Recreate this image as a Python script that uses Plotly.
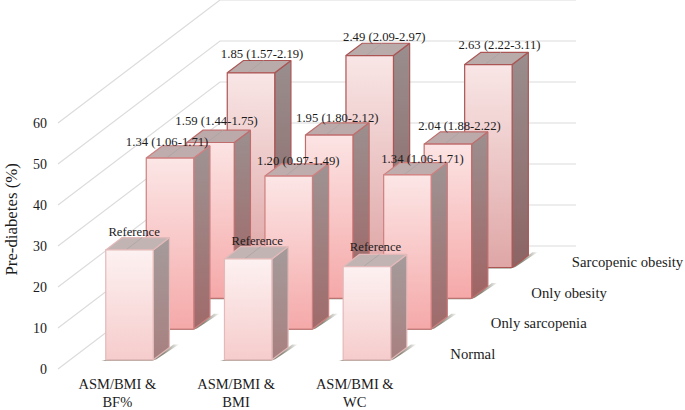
import plotly.graph_objects as go

groups = ["ASM/BMI &<br>BF%", "ASM/BMI &<br>BMI", "ASM/BMI &<br>WC"]
rows = ["Normal", "Only sarcopenia", "Only obesity", "Sarcopenic obesity"]
normal = [26.8, 24.6, 22.7]
only_sarcopenia = [41.7, 37.3, 37.6]
only_obesity = [38.0, 39.8, 37.6]
sarcopenic_obesity = [47.5, 51.7, 49.5]
normal_labels = ["Reference", "Reference", "Reference"]
sarcopenia_labels = ["1.34 (1.06-1.71)", "1.20 (0.97-1.49)", "1.34 (1.06-1.71)"]
obesity_labels = ["1.59 (1.44-1.75)", "1.95 (1.80-2.12)", "2.04 (1.88-2.22)"]
sarcopenic_labels = ["1.85 (1.57-2.19)", "2.49 (2.09-2.97)", "2.63 (2.22-3.11)"]
y_ticks = [0, 10, 20, 30, 40, 50, 60]

series = [normal, only_sarcopenia, only_obesity, sarcopenic_obesity]
labels = [normal_labels, sarcopenia_labels, obesity_labels, sarcopenic_labels]

# oblique projection: one row of depth in axis units
DX, DY = 0.3412, 7.5
PXX, PXY = 118.7, 4.1
def P(u, d, v):
    return u + d * DX, v + d * DY

front = [("#fdf1f1", "#f6cccc"), ("#fce6e6", "#f5a9a9"), ("#fce4e4", "#f5a8a8"), ("#f9e6e6", "#dfa6a6")]
side = [("#a59b9b", "#a88080"), ("#9f9393", "#a06a6a"), ("#9c8f8f", "#a06464"), ("#9a8e8e", "#8c6464")]
top_c = ["#c3b4b4", "#bfacac", "#bcaaaa", "#baabab"]
edge = ["#e3b9b9", "#cf7f7f", "#c06d6d", "#ab5555"]

# label nudges, px (right, up)
NUDGE = [[(-3.5, 5), (1, 5), (0.5, 7)],
         [(-11, 3), (1.5, 2), (7, 3)],
         [(-2, 8), (0, 4), (3.5, 5)],
         [(3, 6), (6.5, 5), (3, 6)]]

fig = go.Figure()

def poly(pts, **kw):
    fig.add_trace(go.Scatter(x=[p[0] for p in pts] + [pts[0][0]], y=[p[1] for p in pts] + [pts[0][1]],
                             mode="lines", fill="toself", hoverinfo="skip", showlegend=False, **kw))

def seg(a, b, color, width):
    fig.add_trace(go.Scatter(x=[a[0], b[0]], y=[a[1], b[1]], mode="lines", hoverinfo="skip",
                             showlegend=False, line=dict(color=color, width=width)))

# walls
for t in y_ticks:
    fig.add_trace(go.Scatter(x=[P(0, 0, t)[0], P(0, 4, t)[0], P(3, 4, t)[0]],
                             y=[P(0, 0, t)[1], P(0, 4, t)[1], P(3, 4, t)[1]],
                             mode="lines", hoverinfo="skip", showlegend=False,
                             line=dict(color="#dcdcdc", width=1.2), cliponaxis=False))

shadow = dict(type="horizontal", colorscale=[[0, "rgba(85,85,65,0.3)"], [0.06, "rgba(85,85,65,0.75)"],
                                             [0.8, "rgba(85,85,65,0.7)"], [1, "rgba(85,85,65,0.05)"]])

# bars, back row first
for r in range(3, -1, -1):
    d0, d1 = r + 0.3, r + 0.7
    for g in range(3):
        u0, u1 = g + 0.3, g + 0.7
        v = series[r][g]
        # soft shadow on the floor
        poly([P(u0 - 0.03, d0 - 0.03, 0), P(u1, d0 - 0.03, 0), P(u1 + 0.02, d0 + 0.02, 0),
              P(u1 + 0.045, d1 + 0.1, 0), P(u1, d1 + 0.1, 0), P(u1, d1, 0), P(u0, d0, 0)],
             line=dict(width=0, color="rgba(0,0,0,0)"), fillgradient=shadow)
        grad = lambda c: dict(type="vertical", colorscale=[[0, c[1]], [1, c[0]]])
        line = dict(color=edge[r], width=1.2)
        poly([P(u1, d0, 0), P(u1, d1, 0), P(u1, d1, v), P(u1, d0, v)], line=line, fillgradient=grad(side[r]))
        poly([P(u0, d0, v), P(u1, d0, v), P(u1, d1, v), P(u0, d1, v)], line=line, fillcolor=top_c[r])
        seg(P(u0 + 0.17, d0, v), P(u0 + 0.17, d1, v), "#a9a3a3", 0.8)
        poly([P(u0, d0, 0), P(u1, d0, 0), P(u1, d0, v), P(u0, d0, v)], line=line, fillgradient=grad(front[r]))

# bar labels: centred over the whole top face, just behind its back edge
for r in range(4):
    xs, ys = [], []
    for g in range(3):
        x = P(g + 0.5, r + 0.5, 0)[0]
        y = P(g + 0.5, r + 0.7, series[r][g])[1]
        xs.append(x + NUDGE[r][g][0] / PXX)
        ys.append(y + NUDGE[r][g][1] / PXY)
    fig.add_trace(go.Scatter(x=xs, y=ys, mode="text", text=labels[r], textposition="middle center",
                             textfont=dict(size=12.7, color="#1c1c1c"), hoverinfo="skip",
                             showlegend=False, cliponaxis=False))

# depth axis labels
dx = [P(3, r + 0.5, 0)[0] + 16 / PXX for r in range(4)]
dy = [P(3, r + 0.5, 0)[1] - 1.7 / PXY for r in range(4)]
fig.add_trace(go.Scatter(x=dx, y=dy, mode="text", text=rows, textposition="middle right",
                         textfont=dict(size=14.7, color="#1c1c1c"), hoverinfo="skip",
                         showlegend=False, cliponaxis=False))

fig.add_annotation(text="Pre-diabetes (%)", textangle=-90, xref="paper", yref="y", x=-37 / 637, xanchor="center",
                   y=(369 - 219.5) / PXY, yanchor="middle", showarrow=False,
                   font=dict(size=16.8, color="#1c1c1c"))

fig.update_layout(
    width=685, height=410, autosize=False,
    margin=dict(l=48, r=0, t=0, b=37),
    paper_bgcolor="white", plot_bgcolor="white",
    font=dict(family="Liberation Serif", color="#1c1c1c"),
    showlegend=False,
    xaxis=dict(range=[-10 / PXX, 627 / PXX], tickvals=[0.5, 1.5, 2.5], ticktext=groups, automargin=False,
               showgrid=False, zeroline=False, showline=False, ticks="", tickfont=dict(size=14.5), fixedrange=True),
    yaxis=dict(range=[-4 / PXY, 369 / PXY], tickvals=y_ticks, showgrid=False, zeroline=False, showline=False, automargin=False,
               ticks="", tickfont=dict(size=14), fixedrange=True),
)
fig.write_html("out.html", config=dict(displayModeBar=False),
               post_script="document.body.style.margin='0';document.documentElement.style.overflow='hidden';")
